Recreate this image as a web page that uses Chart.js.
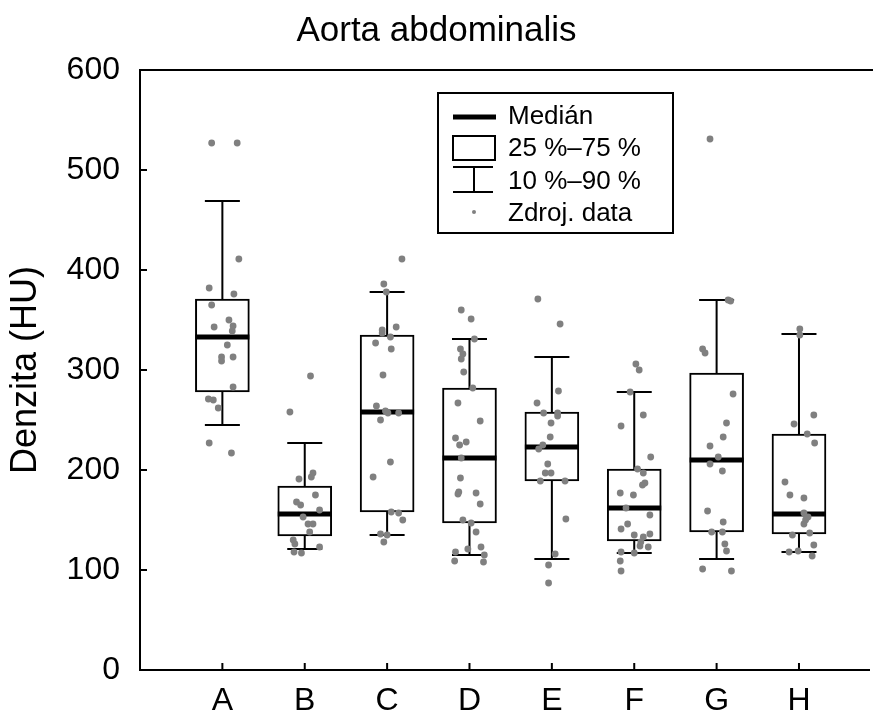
<!DOCTYPE html>
<html>
<head>
<meta charset="utf-8">
<script src="https://cdn.jsdelivr.net/npm/chart.js@4.4.0/dist/chart.umd.min.js"></script>
<style>
  html, body { margin: 0; padding: 0; background: #fff; overflow: hidden; }
  canvas { display: block; }
</style>
</head>
<body>
<canvas id="chart" width="873" height="722"></canvas>
<script>
// Aorta abdominalis - box plots + raw points

const categories = ["A", "B", "C", "D", "E", "F", "G", "H"];
const yTicks = [0, 100, 200, 300, 400, 500, 600];
const legendLabels = ["Medián", "25 %–75 %", "10 %–90 %", "Zdroj. data"];

// percentiles per group
const p10 = [245, 121, 135, 115, 111, 117, 111, 118];
const p25 = [278, 134, 158, 147, 189, 129, 138, 136];
const median = [333, 156, 258, 212, 223, 162, 210, 156];
const p75 = [371, 184, 335, 282, 258, 201, 297, 236];
const p90 = [469, 227, 378, 331, 313, 278, 370, 336];

// raw data (HU) and horizontal jitter (category units)
const rawA = [527, 527, 411, 382, 376, 365, 350, 344, 343, 339, 325, 313, 309, 313, 283, 271, 270, 262, 227, 217];
const jitA = [-0.13, 0.18, 0.2, -0.16, 0.14, -0.13, 0.08, 0.13, -0.1, 0.12, 0.06, -0.01, -0.01, 0.13, 0.13, -0.17, -0.11, -0.05, -0.16, 0.11];
const rawB = [294, 258, 197, 193, 191, 175, 168, 165, 160, 153, 146, 146, 138, 130, 126, 123, 118, 117];
const jitB = [0.07, -0.18, 0.1, 0.08, -0.07, 0.13, -0.1, -0.05, 0.18, -0.02, 0.04, 0.1, 0.06, -0.14, -0.12, 0.18, -0.13, -0.04];
const rawC = [411, 386, 378, 343, 340, 337, 333, 327, 321, 295, 264, 259, 257, 257, 250, 208, 193, 158, 157, 150, 136, 135, 128];
const jitC = [0.18, -0.04, -0.01, 0.11, -0.06, -0.06, 0.04, -0.14, 0.05, -0.05, -0.13, -0.02, 0.01, 0.14, -0.08, 0.04, -0.17, 0.05, 0.14, 0.19, -0.08, 0, -0.04];
const rawD = [360, 351, 331, 321, 316, 311, 298, 282, 267, 249, 232, 228, 225, 212, 192, 178, 177, 176, 166, 150, 147, 138, 123, 121, 118, 115, 109, 108];
const jitD = [-0.1, 0.02, 0.06, -0.11, -0.08, -0.1, -0.07, 0.04, -0.14, 0.13, -0.17, -0.04, -0.12, -0.1, -0.11, -0.13, 0.08, -0.14, 0.13, -0.08, 0.02, 0.08, 0.14, -0.02, -0.17, 0.18, -0.18, 0.17];
const rawE = [371, 346, 279, 267, 257, 257, 254, 247, 233, 225, 221, 206, 197, 197, 189, 189, 151, 116, 105, 87];
const jitE = [-0.17, 0.1, 0.08, -0.18, -0.1, 0.07, 0.07, -0.01, -0.02, -0.11, -0.16, -0.05, -0.08, -0.01, -0.14, 0.16, 0.17, 0.04, -0.04, -0.04];
const rawF = [306, 300, 278, 255, 244, 213, 201, 197, 187, 185, 177, 175, 162, 155, 146, 141, 136, 135, 133, 128, 124, 123, 118, 117, 109, 99];
const jitF = [0.02, 0.06, -0.05, 0.11, -0.16, 0.2, 0.04, 0.11, 0.13, 0.1, -0.17, -0.01, -0.1, 0.19, -0.08, -0.16, 0.19, 0, 0.11, 0.08, 0.07, 0.17, -0.16, 0, -0.17, -0.16];
const rawG = [531, 370, 369, 321, 317, 276, 247, 233, 224, 213, 206, 199, 159, 148, 138, 138, 126, 119, 101, 99];
const jitG = [-0.08, 0.14, 0.17, -0.17, -0.14, 0.2, 0.12, 0.08, -0.08, 0.02, -0.08, 0.07, -0.11, 0.08, -0.06, 0.07, 0.1, 0.12, -0.17, 0.18];
const rawH = [341, 335, 255, 246, 236, 227, 188, 175, 172, 157, 153, 150, 146, 137, 135, 125, 119, 118, 114];
const jitH = [0.01, 0.01, 0.18, -0.06, 0.1, 0.19, -0.17, -0.11, 0.06, 0.06, 0.11, 0.08, 0.06, 0.13, -0.08, 0.18, -0.01, -0.12, 0.16];

const rawGroups = [rawA, rawB, rawC, rawD, rawE, rawF, rawG, rawH];
const jitGroups = [jitA, jitB, jitC, jitD, jitE, jitF, jitG, jitH];

const FONT = '"Liberation Sans", Arial, Helvetica, sans-serif';
Chart.defaults.font.family = FONT;
Chart.defaults.color = "#000";

const points = [];
rawGroups.forEach((vals, i) => {
    vals.forEach((v, k) => points.push({ x: i + 1 + jitGroups[i][k], y: v }));
});

const boxes = categories.map((c, i) => ({ x: i + 1, y: [p25[i], p75[i]] }));

const BOX_W = 54;
const CAP_W = 35;

// whiskers under the boxes, medians on top of them
const boxExtras = {
    id: "boxExtras",
    beforeDatasetsDraw(chart) {
        const { ctx, scales: { x, y } } = chart;
        ctx.save();
        ctx.strokeStyle = "#000";
        ctx.lineWidth = 2;
        categories.forEach((c, i) => {
            const cx = x.getPixelForValue(i + 1);
            const lo = y.getPixelForValue(p10[i]);
            const hi = y.getPixelForValue(p90[i]);
            ctx.beginPath();
            ctx.moveTo(cx, lo); ctx.lineTo(cx, y.getPixelForValue(p25[i]));
            ctx.moveTo(cx, hi); ctx.lineTo(cx, y.getPixelForValue(p75[i]));
            ctx.moveTo(cx - CAP_W / 2, lo); ctx.lineTo(cx + CAP_W / 2, lo);
            ctx.moveTo(cx - CAP_W / 2, hi); ctx.lineTo(cx + CAP_W / 2, hi);
            ctx.stroke();
        });
        ctx.restore();
    },
    afterDatasetDraw(chart, args) {
        if (args.meta.type !== "bar") return;
        const { ctx, scales: { x, y } } = chart;
        ctx.save();
        ctx.strokeStyle = "#000";
        ctx.lineWidth = 5;
        categories.forEach((c, i) => {
            const cx = x.getPixelForValue(i + 1);
            const my = y.getPixelForValue(median[i]);
            ctx.beginPath();
            ctx.moveTo(cx - BOX_W / 2, my);
            ctx.lineTo(cx + BOX_W / 2, my);
            ctx.stroke();
        });
        ctx.restore();
    }
};

// inward ticks + top frame line
const frame = {
    id: "frame",
    afterDraw(chart) {
        const { ctx, chartArea: a, scales: { x, y } } = chart;
        ctx.save();
        ctx.strokeStyle = "#000";
        ctx.lineWidth = 2;
        ctx.beginPath();
        ctx.moveTo(a.left - 1, a.top);
        ctx.lineTo(chart.width, a.top);
        y.ticks.forEach(t => {
            const py = y.getPixelForValue(t.value);
            ctx.moveTo(a.left, py); ctx.lineTo(a.left + 7, py);
        });
        x.ticks.forEach(t => {
            const px = x.getPixelForValue(t.value);
            ctx.moveTo(px, a.bottom); ctx.lineTo(px, a.bottom - 7);
        });
        ctx.stroke();
        ctx.restore();
    }
};

// legend box
const legendBox = {
    id: "legendBox",
    afterDatasetsDraw(chart) {
        const { ctx, chartArea: a } = chart;
        const left = a.left + 298, top = a.top + 23, w = 235, h = 140;
        const sx = left + 15, ex = left + 57, mid = (sx + ex) / 2;
        ctx.save();
        ctx.fillStyle = "#fff";
        ctx.fillRect(left, top, w, h);
        ctx.strokeStyle = "#000";
        ctx.lineWidth = 2;
        ctx.strokeRect(left, top, w, h);

        ctx.lineWidth = 5;
        ctx.beginPath(); ctx.moveTo(sx, top + 24); ctx.lineTo(ex + 1, top + 24); ctx.stroke();

        ctx.lineWidth = 2;
        ctx.strokeRect(sx, top + 43, ex - sx, 24);

        ctx.beginPath();
        ctx.moveTo(sx, top + 74); ctx.lineTo(ex - 2, top + 74);
        ctx.moveTo(mid, top + 74); ctx.lineTo(mid, top + 99);
        ctx.moveTo(sx, top + 99); ctx.lineTo(ex - 2, top + 99);
        ctx.stroke();

        ctx.fillStyle = "#808080";
        ctx.beginPath(); ctx.arc(mid, top + 119, 2, 0, Math.PI * 2); ctx.fill();

        ctx.fillStyle = "#000";
        ctx.font = "26px " + FONT;
        ctx.textBaseline = "alphabetic";
        legendLabels.forEach((t, i) => ctx.fillText(t, left + 70, top + 31 + i * 32.3));
        ctx.restore();
    }
};

new Chart(document.getElementById("chart"), {
    type: "scatter",
    data: {
        datasets: [
            {
                type: "scatter",
                label: "Zdroj. data",
                data: points,
                backgroundColor: "#808080",
                borderWidth: 0,
                pointRadius: 3.4,
                order: 0
            },
            {
                type: "bar",
                label: "25 %–75 %",
                data: boxes,
                backgroundColor: "#fff",
                borderColor: "#000",
                borderWidth: 2,
                borderSkipped: false,
                barThickness: BOX_W,
                order: 2
            }
        ]
    },
    options: {
        responsive: false,
        animation: false,
        layout: { padding: 0 },
        plugins: {
            legend: { display: false },
            tooltip: { enabled: false },
            title: {
                display: true,
                text: "Aorta abdominalis",
                color: "#000",
                font: { size: 35, weight: "normal" },
                padding: { top: 10, bottom: 18 }
            }
        },
        scales: {
            x: {
                type: "linear",
                offset: false,
                min: 0,
                max: 8.85,
                afterBuildTicks: s => { s.ticks = categories.map((c, i) => ({ value: i + 1 })); },
                afterFit: s => { s.height = 52; s.paddingLeft = 0; s.paddingRight = 0; },
                ticks: {
                    callback: v => categories[v - 1] || "",
                    font: { size: 32 },
                    padding: 12,
                    maxRotation: 0,
                    autoSkip: false
                },
                grid: { offset: false, drawOnChartArea: false, drawTicks: false },
                border: { color: "#000", width: 2 }
            },
            y: {
                min: 0,
                max: 600,
                afterBuildTicks: s => { s.ticks = yTicks.map(v => ({ value: v })); },
                afterFit: s => { s.width = 140; },
                ticks: { font: { size: 32 }, padding: 20 },
                grid: { drawOnChartArea: false, drawTicks: false },
                border: { color: "#000", width: 2 },
                title: {
                    display: true,
                    text: "Denzita (HU)",
                    font: { size: 36 },
                    padding: { top: 4, bottom: 0 }
                }
            }
        }
    },
    plugins: [boxExtras, frame, legendBox]
});
</script>
</body>
</html>
